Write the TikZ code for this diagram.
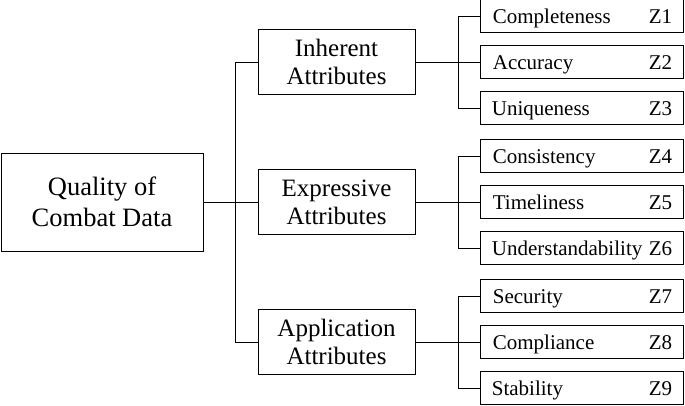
\documentclass[tikz,border=0pt]{standalone}
\usepackage{fontspec}
\setmainfont{Liberation Serif}
\begin{document}
\begin{tikzpicture}[x=1pt,y=-1pt,
  box/.style={draw,line width=0.7pt,inner sep=0pt,anchor=center},
  big/.style={box,minimum width=157pt,minimum height=65pt,align=center,font=\fontsize{25}{28}\selectfont},
  leaf/.style={box,minimum width=203pt,minimum height=33pt},
  lt/.style={font=\fontsize{21}{23}\selectfont,inner sep=0pt},
  ln/.style={line width=0.9pt}]
\useasboundingbox (0,0) rectangle (685,405);
\node[box,minimum width=202pt,minimum height=98pt,align=center,font=\fontsize{26.5}{31}\selectfont] (root) at (102,202) {Quality of\\Combat Data};
\node[big] (m1) at (336.5,62) {Inherent\\Attributes};
\node[big] (m2) at (336.5,202) {Expressive\\Attributes};
\node[big] (m3) at (336.5,342) {Application\\Attributes};
\coordinate (t) at (235,202);
\draw[ln] (root.east) -- (t);
\coordinate (t1) at (235,62);
\coordinate (t3) at (235,342);
\draw[ln] (t1) -- (t3);
\draw[ln] (t1) -- (m1.west);
\draw[ln] (t) -- (m2.west);
\draw[ln] (t3) -- (m3.west);
\foreach \m/\ya/\yb/\yc/\la/\lb/\lc/\za/\zb/\zc in {
 m1/16/62/108/Completeness/Accuracy/Uniqueness/Z1/Z2/Z3,
 m2/156/202/248/Consistency/Timeliness/Understandability/Z4/Z5/Z6,
 m3/296/342/388/Security/Compliance/Stability/Z7/Z8/Z9}{
  \node[leaf] (\za) at (581.5,\ya) {};
  \node[leaf] (\zb) at (581.5,\yb) {};
  \node[leaf] (\zc) at (581.5,\yc) {};
  \node[lt,anchor=base west] at ([xshift=13pt,yshift=-7pt]\za.west) {\la};
  \node[lt,anchor=base west] at ([xshift=13pt,yshift=-7pt]\zb.west) {\lb};
  \node[lt,anchor=base west] at ([xshift=12pt,yshift=-7pt]\zc.west) {\lc};
  \node[lt,anchor=base east] at ([xshift=-11pt,yshift=-7pt]\za.east) {\za};
  \node[lt,anchor=base east] at ([xshift=-11pt,yshift=-7pt]\zb.east) {\zb};
  \node[lt,anchor=base east] at ([xshift=-11pt,yshift=-7pt]\zc.east) {\zc};
  \coordinate (b\za) at (458,\ya);
  \coordinate (b\zc) at (458,\yc);
  \draw[ln] (b\za) -- (b\zc);
  \draw[ln] (b\za) -- (\za.west);
  \draw[ln] (\m.east) -- (\zb.west);
  \draw[ln] (b\zc) -- (\zc.west);
}
\end{tikzpicture}
\end{document}
